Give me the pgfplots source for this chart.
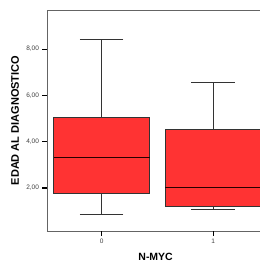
\documentclass[border=0pt]{standalone}
\usepackage{pgfplots}
\pgfplotsset{compat=1.18}
\usepgfplotslibrary{statistics}
\usepackage{fontspec}
\setmainfont{Liberation Sans}
\definecolor{boxred}{RGB}{255,51,51}
\definecolor{framegray}{RGB}{100,100,100}
\begin{document}
\begin{tikzpicture}
\begin{axis}[
  scale only axis,
  width=213pt, height=221pt,
  xmin=-0.49, xmax=1.42,
  ymin=0.14, ymax=9.69,
  boxplot/draw direction=y,
  axis x line*=bottom, axis y line*=left,
  axis line style={framegray, line width=0.7pt},
  xtick={0,1}, ytick={2,4,6,8},
  tick align=outside,
  major tick length=4.5pt,
  tick style={black, line width=1.2pt},
  x tick label style={font=\fontsize{6.5}{7}\selectfont, text=black!75},
  y tick label style={font=\fontsize{6.5}{7}\selectfont, text=black!75},
  /pgf/number format/assume math mode=true,
  yticklabel style={/pgf/number format/.cd, fixed, fixed zerofill, precision=2, use comma},
  xticklabel style={/pgf/number format/.cd, fixed, precision=0},
  xlabel={N-MYC}, ylabel={EDAD AL DIAGNOSTICO},
  every axis x label/.style={at={(axis description cs:0.51,-0.118)}, anchor=center, font=\bfseries\fontsize{10.5}{12}\selectfont},
  every axis y label/.style={at={(axis description cs:-0.150,0.5)}, anchor=center, rotate=90, font=\bfseries\fontsize{11}{13}\selectfont},
  clip=false,
]
\addplot+[boxplot prepared={lower whisker=0.86, lower quartile=1.75, median=3.30, upper quartile=5.05, upper whisker=8.41, draw position=0, box extend=0.86, whisker extend=0.39},
  fill=boxred, draw=black!80, line width=0.7pt, solid, mark=none,
  boxplot/every median/.style={draw=black!85!red, line width=0.9pt}]
  coordinates {};
\addplot+[boxplot prepared={lower whisker=1.09, lower quartile=1.19, median=2.01, upper quartile=4.54, upper whisker=6.57, draw position=1, box extend=0.86, whisker extend=0.39},
  fill=boxred, draw=black!80, line width=0.7pt, solid, mark=none,
  boxplot/every median/.style={draw=black!85!red, line width=0.9pt}]
  coordinates {};
\draw[black, line width=1.2pt] (axis cs:0,0.14) -- ++(0pt,-4.5pt);
\draw[black, line width=1.2pt] (axis cs:1,0.14) -- ++(0pt,-4.5pt);
\draw[black, line width=1.2pt] (axis cs:-0.49,2) -- ++(-4.5pt,0pt);
\draw[black, line width=1.2pt] (axis cs:-0.49,4) -- ++(-4.5pt,0pt);
\draw[black, line width=1.2pt] (axis cs:-0.49,6) -- ++(-4.5pt,0pt);
\draw[black, line width=1.2pt] (axis cs:-0.49,8) -- ++(-4.5pt,0pt);
\coordinate (ll) at (rel axis cs:0,0);
\coordinate (ur) at (rel axis cs:1,1);
\end{axis}
\draw[framegray, line width=0.7pt] (ll |- ur) -- (ur);
\pgfresetboundingbox
\path[use as bounding box] ([shift={(-47pt,-32pt)}]ll) rectangle ([shift={(0pt,10pt)}]ur);
\end{tikzpicture}
\end{document}
